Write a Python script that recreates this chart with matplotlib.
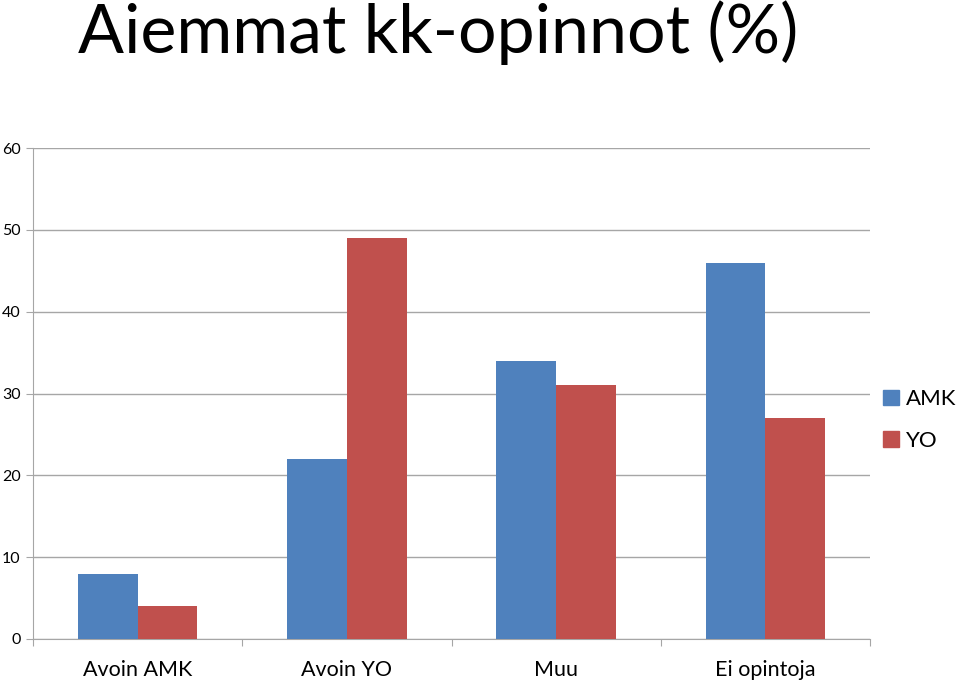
import matplotlib
matplotlib.use("Agg")
import matplotlib.pyplot as plt
import numpy as np
from matplotlib.patches import Patch

categories = ["Avoin AMK", "Avoin YO", "Muu", "Ei opintoja"]
amk = [8, 22, 34, 46]
yo = [4, 49, 31, 27]
series_names = ["AMK", "YO"]
yticks = [0, 10, 20, 30, 40, 50, 60]

plt.rcParams['font.family'] = ['Lato', 'DejaVu Sans']
fig = plt.figure(figsize=(9.59, 6.83), dpi=100)
ax = fig.add_axes([33/959, 44/683, 837/959, 491/683])

blue = "#4F81BD"
red = "#C0504D"
grid = "#A6A6A6"
w = 0.286
x = np.arange(len(categories)) + 0.5
ax.bar(x - w/2, amk, width=w, color=blue, zorder=3)
ax.bar(x + w/2, yo, width=w, color=red, zorder=3)

ax.set_xlim(0, len(categories))
ax.set_ylim(0, 60)
ax.set_yticks(yticks)
ax.set_yticklabels([str(v) for v in yticks], fontsize=11.5)
ax.yaxis.grid(True, color=grid, linewidth=1, zorder=0)
ax.set_xticks(np.arange(len(categories) + 1))
ax.set_xticklabels([])
ax.set_xticks(x, minor=True)
ax.set_xticklabels(categories, minor=True, fontsize=15.5)
ax.tick_params(axis='x', which='minor', length=0, pad=15)
ax.tick_params(axis='x', which='major', direction='out', length=5, color=grid)
ax.tick_params(axis='y', direction='out', length=5, color=grid, pad=4)
for s in ['top', 'right']:
    ax.spines[s].set_visible(False)
ax.spines['left'].set_color(grid)
ax.spines['bottom'].set_color(grid)

handles = [Patch(color=blue), Patch(color=red)]
fig.legend(handles, series_names, loc='center left', bbox_to_anchor=(883/959, 1 - 420/683),
           frameon=False, fontsize=16, handlelength=0.7, handleheight=0.7,
           handletextpad=0.35, labelspacing=0.95, borderpad=0, borderaxespad=0)

fig.text(78/959, 1 - 33/683, "Aiemmat kk-opinnot (%)", fontsize=49, va='center', ha='left')

fig.savefig("out.png", dpi=100)
